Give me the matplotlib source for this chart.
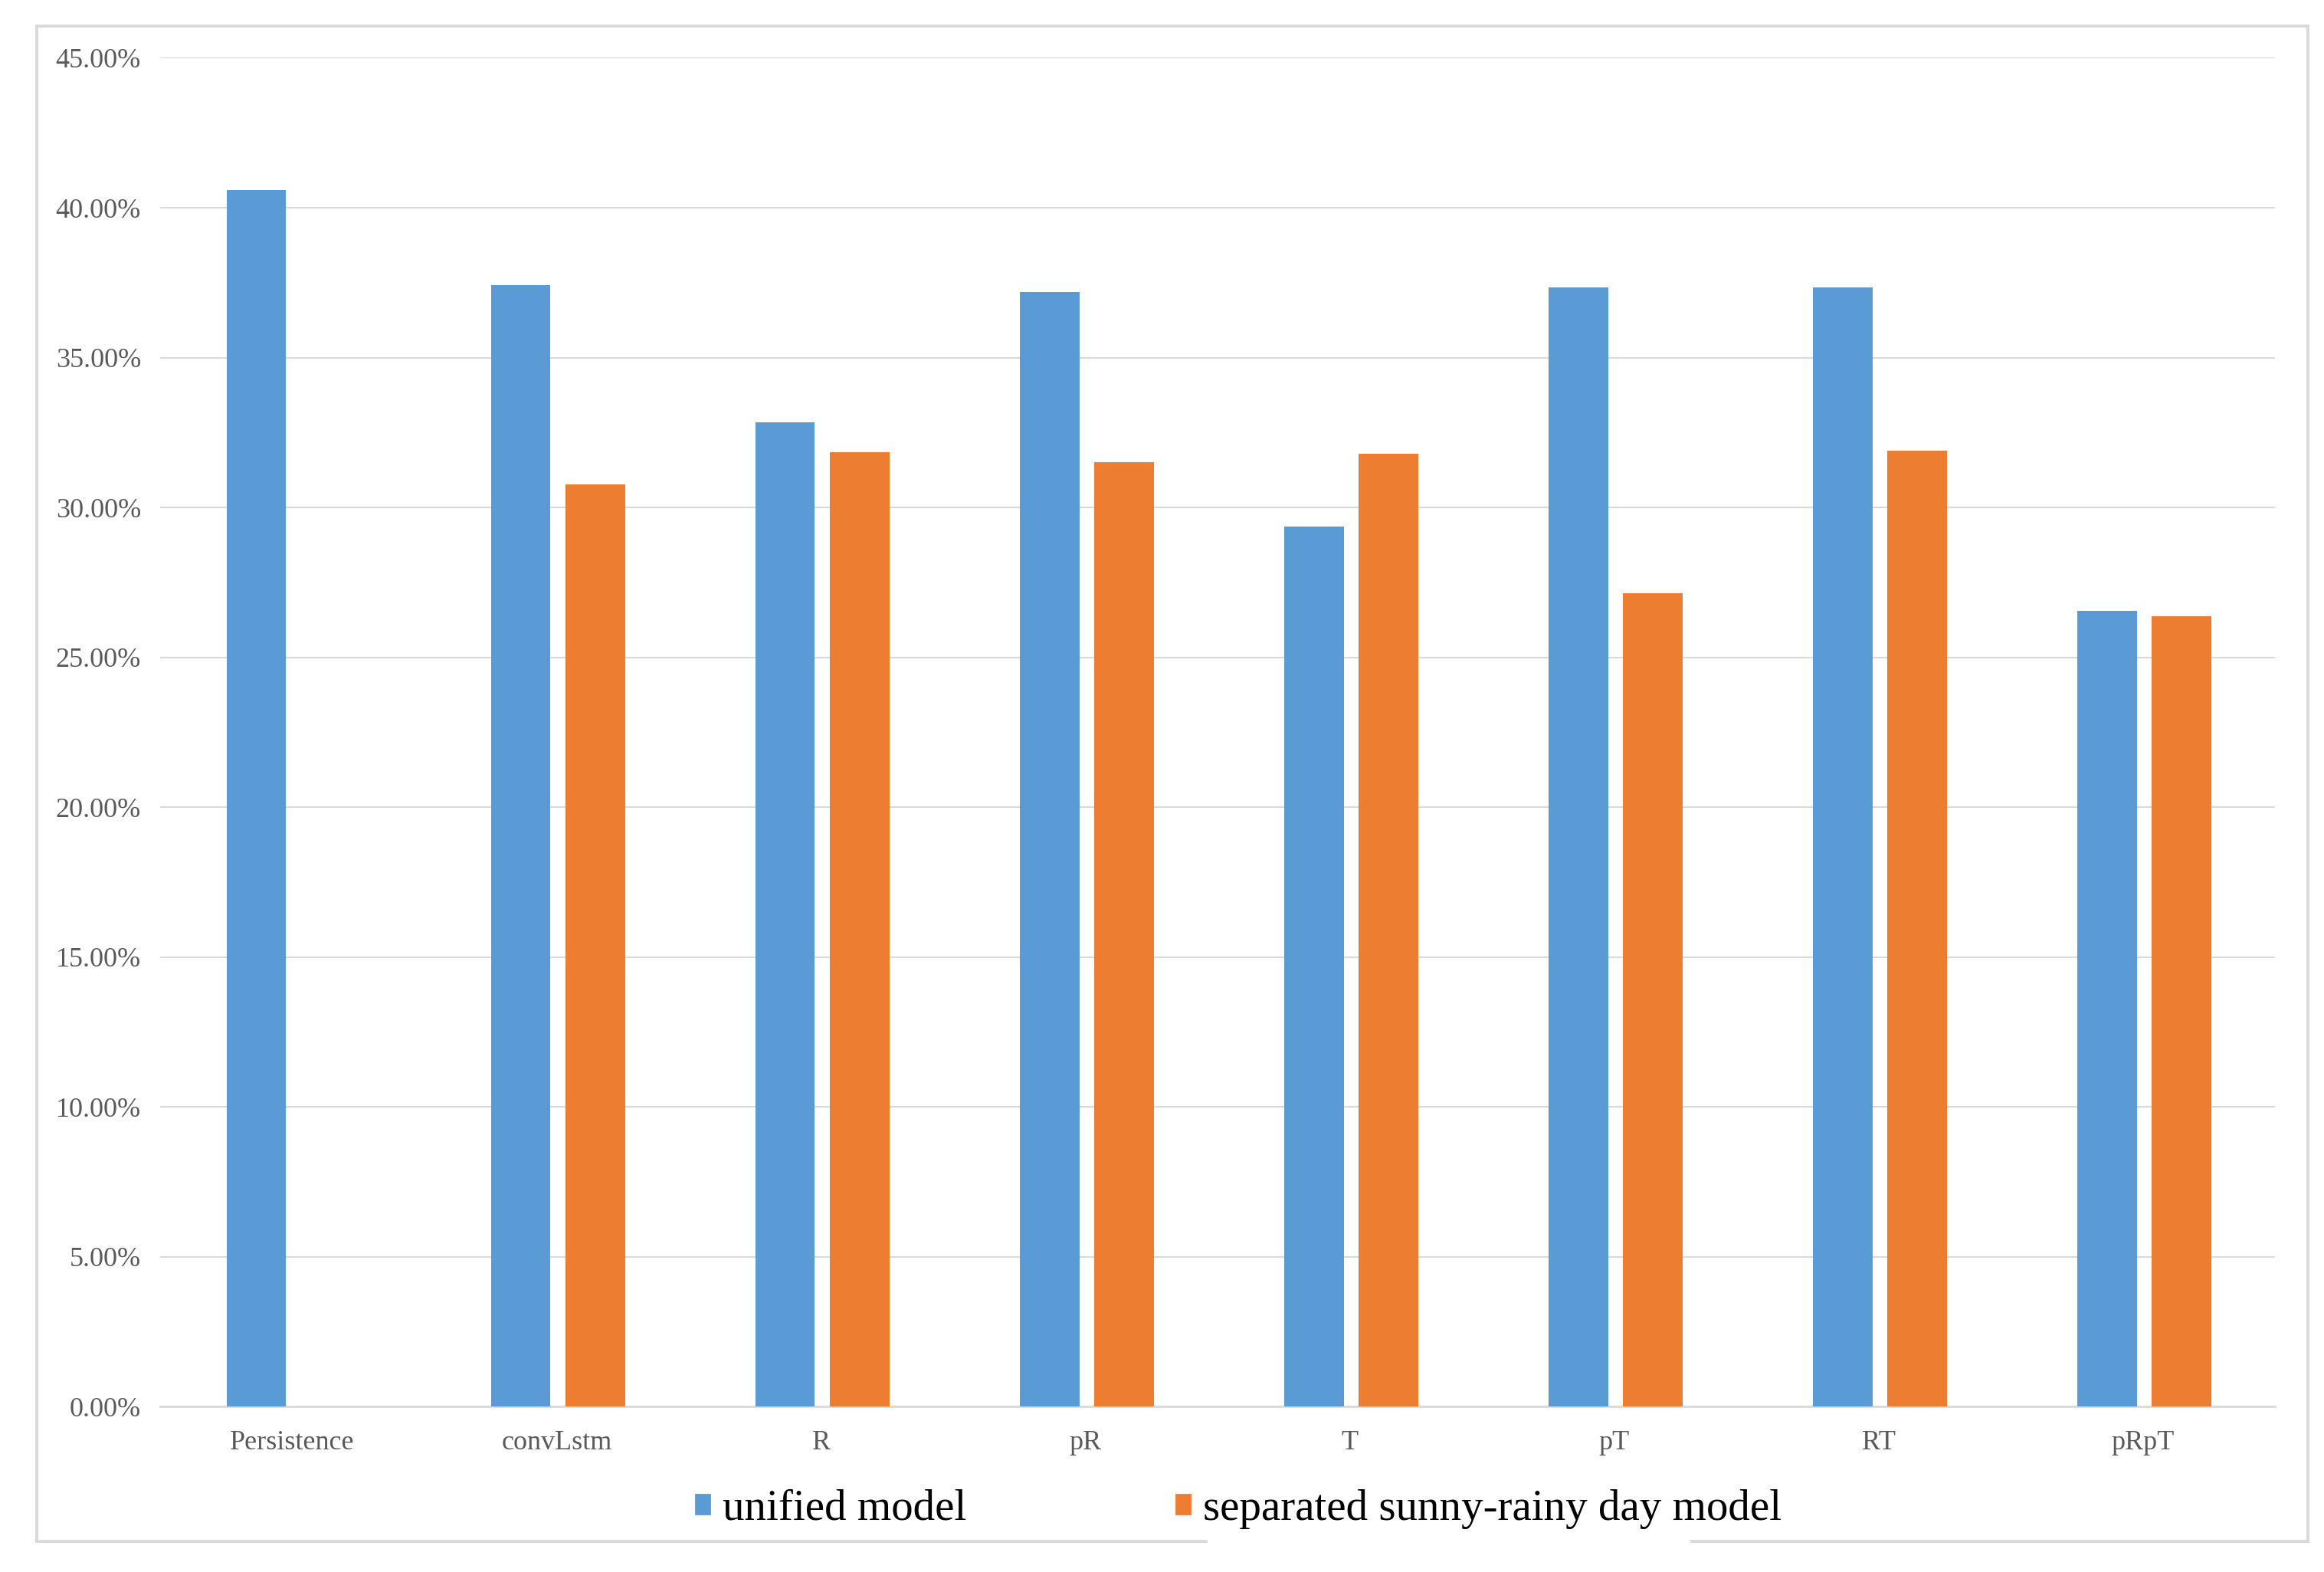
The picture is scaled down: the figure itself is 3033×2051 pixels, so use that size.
import numpy as np
import matplotlib.pyplot as plt
from matplotlib.lines import Line2D
from matplotlib.patches import Patch
from matplotlib.ticker import FuncFormatter

# data (percent)
models = ['Persistence', 'convLstm', 'R', 'pR', 'T', 'pT', 'RT', 'pRpT']
unified = [40.60, 37.43, 32.84, 37.19, 29.37, 37.34, 37.34, 26.56]
separated = [np.nan, 30.76, 31.85, 31.50, 31.80, 27.15, 31.90, 26.36]

blue = '#5B9BD5'
orange = '#ED7D31'
grid_col = '#D9D9D9'
serif = ['Liberation Serif', 'DejaVu Serif']

fig = plt.figure(figsize=(3033 / 200, 2051 / 200), dpi=200)
ax = fig.add_axes([0.0689, 0.1051, 0.979 - 0.0689, 0.9632 - 0.1051])

x = np.arange(len(models))
w = 0.225
off = 0.141
ax.bar(x - off + 0.005, unified, w, color=blue, zorder=3)
ax.bar(x + off + 0.005, separated, w, color=orange, zorder=3)

ax.set_xlim(-0.5, len(models) - 0.5)
ax.set_ylim(0, 45)
ax.set_yticks(np.arange(0, 46, 5))
ax.yaxis.set_major_formatter(FuncFormatter(lambda v, p: '%.2f%%' % v))
ax.set_xticks(x)
ax.set_xticklabels(models)

for lab in ax.get_xticklabels() + ax.get_yticklabels():
    lab.set_family(serif)
    lab.set_fontsize(13)
    lab.set_color('#595959')
ax.tick_params(axis='both', length=0)
ax.tick_params(axis='y', pad=9)
ax.tick_params(axis='x', pad=11)

ax.grid(axis='y', color=grid_col, lw=0.75, zorder=0)
for s in ['top', 'right', 'left']:
    ax.spines[s].set_visible(False)
ax.spines['bottom'].set_color(grid_col)
ax.spines['bottom'].set_linewidth(1.0)

# legend
handles = [Patch(color=blue, label='unified model'),
           Patch(color=orange, label='separated sunny-rainy day model')]
fig.legend(handles=handles, loc='center', bbox_to_anchor=(0.533, 0.040),
           ncol=2, frameon=False, prop={'family': serif, 'size': 20.5},
           handlelength=0.32, handleheight=0.32, handletextpad=0.3,
           columnspacing=4.8, borderpad=0)

# outer chart border (bottom edge broken behind the legend)
L, R, T, B = 0.0159, 0.993, 0.9836, 0.0195
kw = dict(color=grid_col, lw=1.4, transform=fig.transFigure)
fig.add_artist(Line2D([L, R], [T, T], **kw))
fig.add_artist(Line2D([L, L], [B, T], **kw))
fig.add_artist(Line2D([R, R], [B, T], **kw))
fig.add_artist(Line2D([L, 0.519], [B, B], **kw))
fig.add_artist(Line2D([0.728, R], [B, B], **kw))

fig.savefig('out.png', dpi=200, facecolor='white')
